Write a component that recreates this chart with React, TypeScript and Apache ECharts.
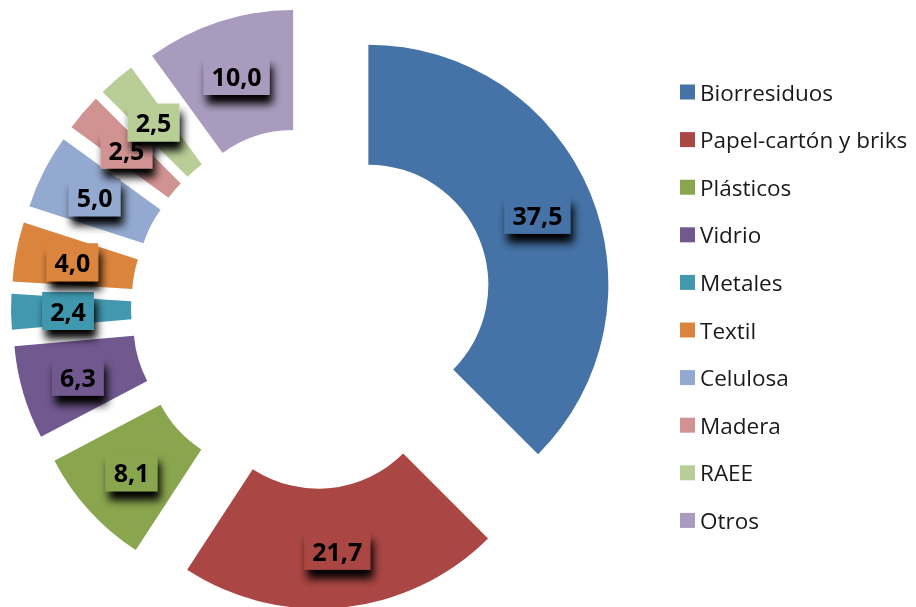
import React, { useEffect, useRef } from "react";
import * as echarts from "echarts";

const categories = [
  "Biorresiduos",
  "Papel-cartón y briks",
  "Plásticos",
  "Vidrio",
  "Metales",
  "Textil",
  "Celulosa",
  "Madera",
  "RAEE",
  "Otros",
];
const values = [37.5, 21.7, 8.1, 6.3, 2.4, 4.0, 5.0, 2.5, 2.5, 10.0];
const colors = [
  "#4572A7",
  "#AA4643",
  "#89A54E",
  "#71588F",
  "#4198AF",
  "#DB843D",
  "#93A9CF",
  "#D19392",
  "#B9CD96",
  "#A99BBD",
];

export default function App() {
  const ref = useRef<HTMLDivElement>(null);
  useEffect(() => {
    if (!ref.current) return;
    const chart = echarts.init(ref.current, undefined, { renderer: "svg" });
    const data = categories.map((name, i) => ({
      name,
      value: values[i],
      selected: true,
      itemStyle: { color: colors[i] },
      label: { backgroundColor: colors[i] },
    }));
    chart.setOption({
      animation: false,
      color: colors,
      legend: {
        orient: "vertical",
        left: 680,
        top: 80,
        padding: 0,
        icon: "rect",
        itemWidth: 15,
        itemHeight: 15,
        itemGap: 23.6,
        itemTextGap: 7,
        itemStyle: { borderWidth: 0 },
        selectedMode: false,
        textStyle: {
          fontFamily: "Open Sans",
          fontSize: 22.5,
          lineHeight: 24,
          color: "#1a1a1a",
        },
        data: categories,
      },
      series: [
        {
          type: "pie",
          center: [312, 308],
          radius: [120, 240],
          startAngle: 90,
          clockwise: true,
          selectedMode: "multiple",
          selectedOffset: 61,
          avoidLabelOverlap: false,
          labelLayout: { hideOverlap: false },
          emphasis: { disabled: true },
          select: { itemStyle: {} },
          labelLine: { show: false },
          label: {
            show: true,
            position: "inside",
            formatter: (p: any) => p.value.toFixed(1).replace(".", ","),
            fontFamily: "Open Sans",
            fontWeight: "bold",
            fontSize: 25,
            lineHeight: 28,
            color: "#000",
            padding: [6, 8, 4, 8],
            shadowColor: "rgba(0,0,0,1)",
            shadowBlur: 8,
            shadowOffsetX: 3,
            shadowOffsetY: 9,
          },
          data,
        },
      ],
    });
    return () => chart.dispose();
  }, []);
  return (
    <div
      ref={ref}
      style={{ position: "fixed", left: 0, top: 0, width: 916, height: 607 }}
    />
  );
}
